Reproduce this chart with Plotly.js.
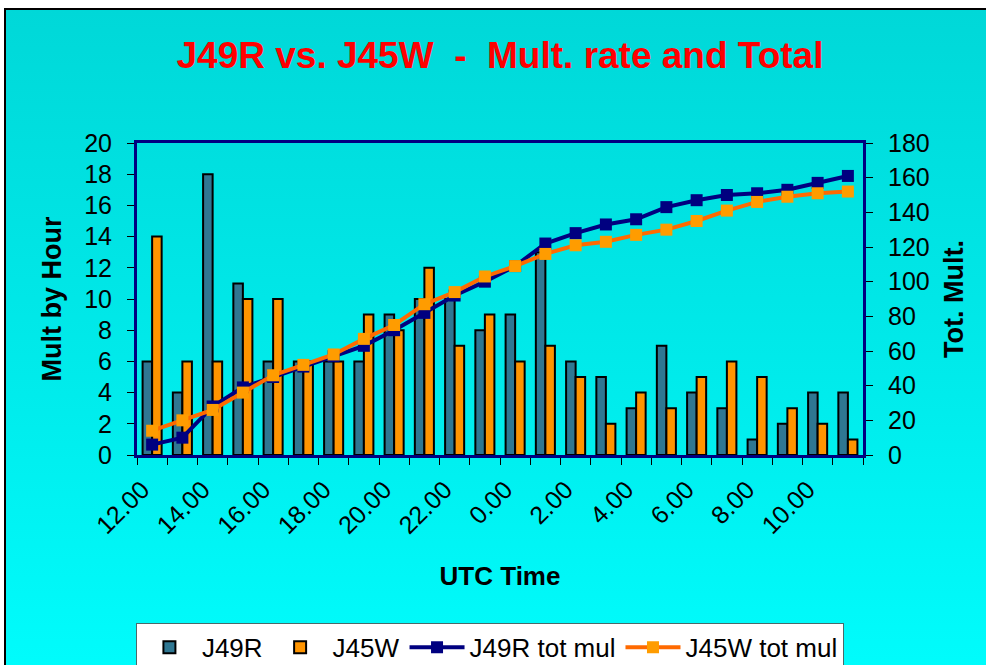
<!DOCTYPE html>
<html>
<head>
<meta charset="utf-8">
<script src="https://cdn.plot.ly/plotly-3.0.1.min.js"></script>
<style>
  html, body { margin: 0; padding: 0; background: #ffffff; }
  #wrap { position: relative; width: 986px; height: 665px; overflow: hidden; background: #ffffff; }
  #bg { position: absolute; left: 4px; top: 8px; width: 1000px; height: 700px;
        border: 2px solid #000000;
        background: linear-gradient(to bottom, #00d8d8 0%, #00ecec 55%, #00ffff 100%); }
  #chart { position: absolute; left: 0; top: 0; width: 986px; height: 665px; }
</style>
</head>
<body>
<div id="wrap">
  <div id="bg"></div>
  <div id="chart"></div>
</div>
<script>
// Hour categories (UTC)
const hours = ["12.00","13.00","14.00","15.00","16.00","17.00","18.00","19.00","20.00","21.00","22.00","23.00",
               "0.00","1.00","2.00","3.00","4.00","5.00","6.00","7.00","8.00","9.00","10.00","11.00"];
// Mults per hour
const j49r = [6,4,18,11,6,6,6,6,9,10,10,8,9,13,6,5,3,7,4,3,1,2,4,4];
const j45w = [14,6,6,10,10,6,6,9,8,12,7,9,6,7,5,2,4,3,5,6,5,3,2,1];
// Running totals
const j49rTot = [6,10,28,39,45,51,57,63,72,82,92,100,109,122,128,133,136,143,147,150,151,153,157,161];
const j45wTot = [14,20,26,36,46,52,58,67,75,87,94,103,109,116,121,123,127,130,135,141,146,149,151,152];
// Labelled ticks (every second hour)
const tickLabels = ["12.00","14.00","16.00","18.00","20.00","22.00","0.00","2.00","4.00","6.00","8.00","10.00"];

const xIdx = hours.map((h, i) => i);
const labelIdx = tickLabels.map(t => hours.indexOf(t));
const boundaries = hours.map((h, i) => i - 0.5).concat([hours.length - 0.5]);

const FONT = 'Arial, "Liberation Sans", sans-serif';

const traces = [
  { type: 'bar', name: 'J49R', x: xIdx, y: j49r,
    marker: { color: '#2f7792', line: { color: '#000000', width: 2 } } },
  { type: 'bar', name: 'J45W', x: xIdx, y: j45w,
    marker: { color: '#ff9400', line: { color: '#000000', width: 2 } } },
  { type: 'scatter', mode: 'lines+markers', name: 'J49R tot mul', x: xIdx, y: j49rTot, yaxis: 'y2',
    line: { color: '#000080', width: 4 },
    marker: { symbol: 'square', size: 12, color: '#000080' } },
  { type: 'scatter', mode: 'lines+markers', name: 'J45W tot mul', x: xIdx, y: j45wTot, yaxis: 'y2',
    line: { color: '#ff6a00', width: 4 },
    marker: { symbol: 'square', size: 12, color: '#ff9c00' } }
];

const layout = {
  width: 986, height: 665,
  paper_bgcolor: 'rgba(0,0,0,0)',
  plot_bgcolor: 'rgba(0,0,0,0)',
  margin: { l: 137, r: 123, t: 143, b: 210, autoexpand: false },
  font: { family: FONT, color: '#000000', size: 25 },
  title: { text: 'J49R vs. J45W \u00a0-\u00a0 Mult. rate and Total',
           font: { family: FONT, size: 37, color: '#ff0000', weight: 'bold' },
           x: 0.5, xref: 'paper', xanchor: 'center', y: 1 - 55/665, yanchor: 'middle' },
  barmode: 'group', bargap: 0.37, bargroupgap: 0,
  showlegend: true,
  legend: { orientation: 'h', x: -0.0015, xanchor: 'left', y: -0.538, yanchor: 'top',
            bgcolor: '#ffffff', bordercolor: '#4a6a6a', borderwidth: 1,
            font: { family: FONT, size: 26, color: '#000000' }, itemwidth: 55,
            traceorder: 'normal' },
  xaxis: {
    range: [-0.5, hours.length - 0.5],
    tickmode: 'array', tickvals: labelIdx, ticktext: tickLabels,
    tickangle: -45, ticks: '', tickfont: { family: FONT, size: 25 },
    ticklabelstandoff: 7, ticklabelshift: -10,
    minor: { tickmode: 'array', tickvals: boundaries, ticks: 'outside', ticklen: 7, tickcolor: '#000000', tickwidth: 1 },
    showline: true, linecolor: '#000080', linewidth: 3, mirror: true,
    showgrid: false, zeroline: false,
    title: { text: 'UTC Time', font: { family: FONT, size: 26, weight: 'bold' }, standoff: 29 }
  },
  yaxis: {
    range: [0, 20], dtick: 2, tick0: 0,
    ticks: 'outside', ticklen: 7, tickcolor: '#000000', tickwidth: 1,
    ticklabelstandoff: 10,
    tickfont: { family: FONT, size: 25 },
    showline: true, linecolor: '#000080', linewidth: 3, mirror: true,
    showgrid: false, zeroline: false,
    title: { text: 'Mult by Hour', font: { family: FONT, size: 27, weight: 'bold' }, standoff: 15 }
  },
  yaxis2: {
    overlaying: 'y', side: 'right',
    range: [0, 180], dtick: 20, tick0: 0,
    ticks: 'outside', ticklen: 7, tickcolor: '#000000', tickwidth: 1,
    ticklabelstandoff: 10,
    tickfont: { family: FONT, size: 25 },
    showline: true, linecolor: '#000080', linewidth: 3,
    showgrid: false, zeroline: false,
    title: { text: 'Tot. Mult.', font: { family: FONT, size: 27, weight: 'bold' }, standoff: 16 }
  }
};

Plotly.newPlot('chart', traces, layout, { displayModeBar: false, staticPlot: true });
</script>
</body>
</html>
